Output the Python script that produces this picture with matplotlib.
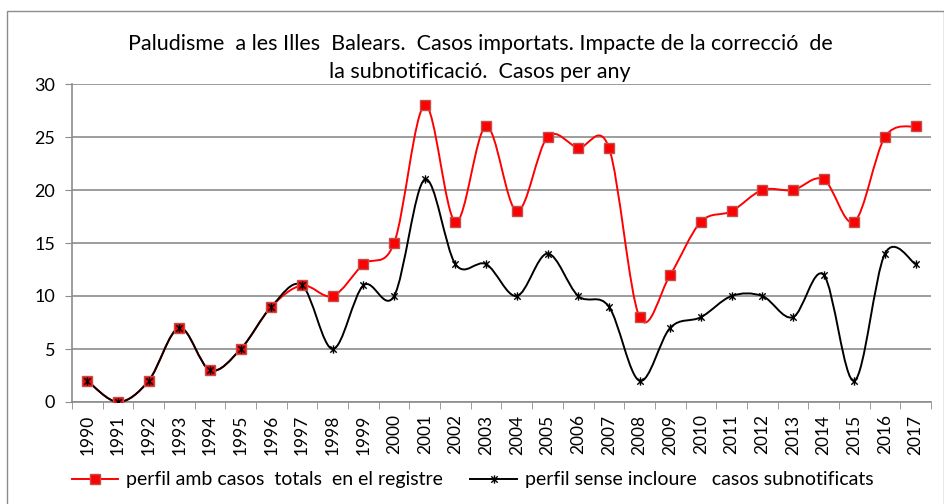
import numpy as np
import matplotlib.pyplot as plt
from matplotlib.path import Path
from matplotlib.patches import PathPatch, Rectangle
from matplotlib.lines import Line2D

plt.rcParams['font.family'] = ['Lato', 'DejaVu Sans']

years = list(range(1990, 2018))
totals = [2, 0, 2, 7, 3, 5, 9, 11, 10, 13, 15, 28, 17, 26, 18, 25, 24, 24,
          8, 12, 17, 18, 20, 20, 21, 17, 25, 26]
sense_sub = [2, 0, 2, 7, 3, 5, 9, 11, 5, 11, 10, 21, 13, 13, 10, 14, 10, 9,
             2, 7, 8, 10, 10, 8, 12, 2, 14, 13]

label_tot = "perfil amb casos  totals  en el registre"
label_sub = "perfil sense incloure   casos subnotificats"
title = ("Paludisme  a les Illes  Balears.  Casos importats. Impacte de la correcció  de\n"
         "la subnotificació.  Casos per any")

# excel star marker: x plus vertical bar
star = Path([(-1, -1), (1, 1), (-1, 1), (1, -1), (0, -1.3), (0, 1.3)],
            [Path.MOVETO, Path.LINETO, Path.MOVETO, Path.LINETO, Path.MOVETO, Path.LINETO])


def smooth_path(xs, ys):
    # bezier curve like excel "smoothed line"
    p = np.column_stack([xs, ys]).astype(float)
    verts = [p[0]]
    codes = [Path.MOVETO]
    n = len(p)
    for i in range(n - 1):
        p0 = p[i - 1] if i > 0 else p[i]
        p3 = p[i + 2] if i + 2 < n else p[i + 1]
        c1 = p[i] + (p[i + 1] - p0) / 6.0
        c2 = p[i + 1] - (p3 - p[i]) / 6.0
        verts += [c1, c2, p[i + 1]]
        codes += [Path.CURVE4] * 3
    return Path(verts, codes)


fig = plt.figure(figsize=(9.45, 5.04), dpi=100)
fig.patches.append(Rectangle((7 / 945, -0.01), 937 / 945, 1 - 11 / 504 + 0.01,
                             transform=fig.transFigure, fill=False,
                             edgecolor='#8c8c8c', lw=1.0))

ax = fig.add_axes([72 / 945, 102 / 504, 859 / 945, 318 / 504])
x = np.arange(len(years))

ax.add_patch(PathPatch(smooth_path(x, totals), fill=False, edgecolor='#ff0000', lw=1.4, zorder=3))
ax.plot(x, totals, ls='none', marker='s', ms=7.5, mfc='#ff0000', mec='#c0504d',
        mew=1.0, zorder=4)
ax.add_patch(PathPatch(smooth_path(x, sense_sub), fill=False, edgecolor='black', lw=1.4, zorder=3))
ax.plot(x, sense_sub, ls='none', marker=star, ms=6, mec='black', mew=1.0, zorder=4)

ax.set_xlim(-0.5, len(years) - 0.5)
ax.set_ylim(0, 30)
ax.set_yticks(range(0, 31, 5))
ax.set_xticks(x)
ax.set_xticklabels([str(y) for y in years], rotation=90, fontsize=12.5)
ax.set_xticks(np.arange(-0.5, len(years), 1), minor=True)
ax.tick_params(axis='x', which='major', length=0, pad=9)
ax.tick_params(axis='x', which='minor', length=5, color='#8c8c8c')
ax.tick_params(axis='y', length=5, color='#8c8c8c', labelsize=13, pad=7)
ax.grid(axis='y', color='#8c8c8c', lw=1.2)
ax.set_axisbelow(True)
for s in ['top', 'right']:
    ax.spines[s].set_visible(False)
for s in ['left', 'bottom']:
    ax.spines[s].set_color('#8c8c8c')
    ax.spines[s].set_linewidth(1.2)

fig.text(480 / 945, 1 - 58 / 504, title, ha='center', va='center', fontsize=15.5,
         linespacing=1.5)

h1 = Line2D([], [], color='#ff0000', lw=1.4, marker='s', ms=7.5, mfc='#ff0000', mec='#c0504d')
h2 = Line2D([], [], color='black', lw=1.4, marker=star, ms=6, mec='black')
fig.legend([h1, h2], [label_tot, label_sub], loc='center', bbox_to_anchor=(0.5, 1 - 480 / 504),
           ncol=2, frameon=False, fontsize=14, handlelength=2.4, columnspacing=1.4,
           handletextpad=0.4)

fig.savefig('out.png', dpi=100)
